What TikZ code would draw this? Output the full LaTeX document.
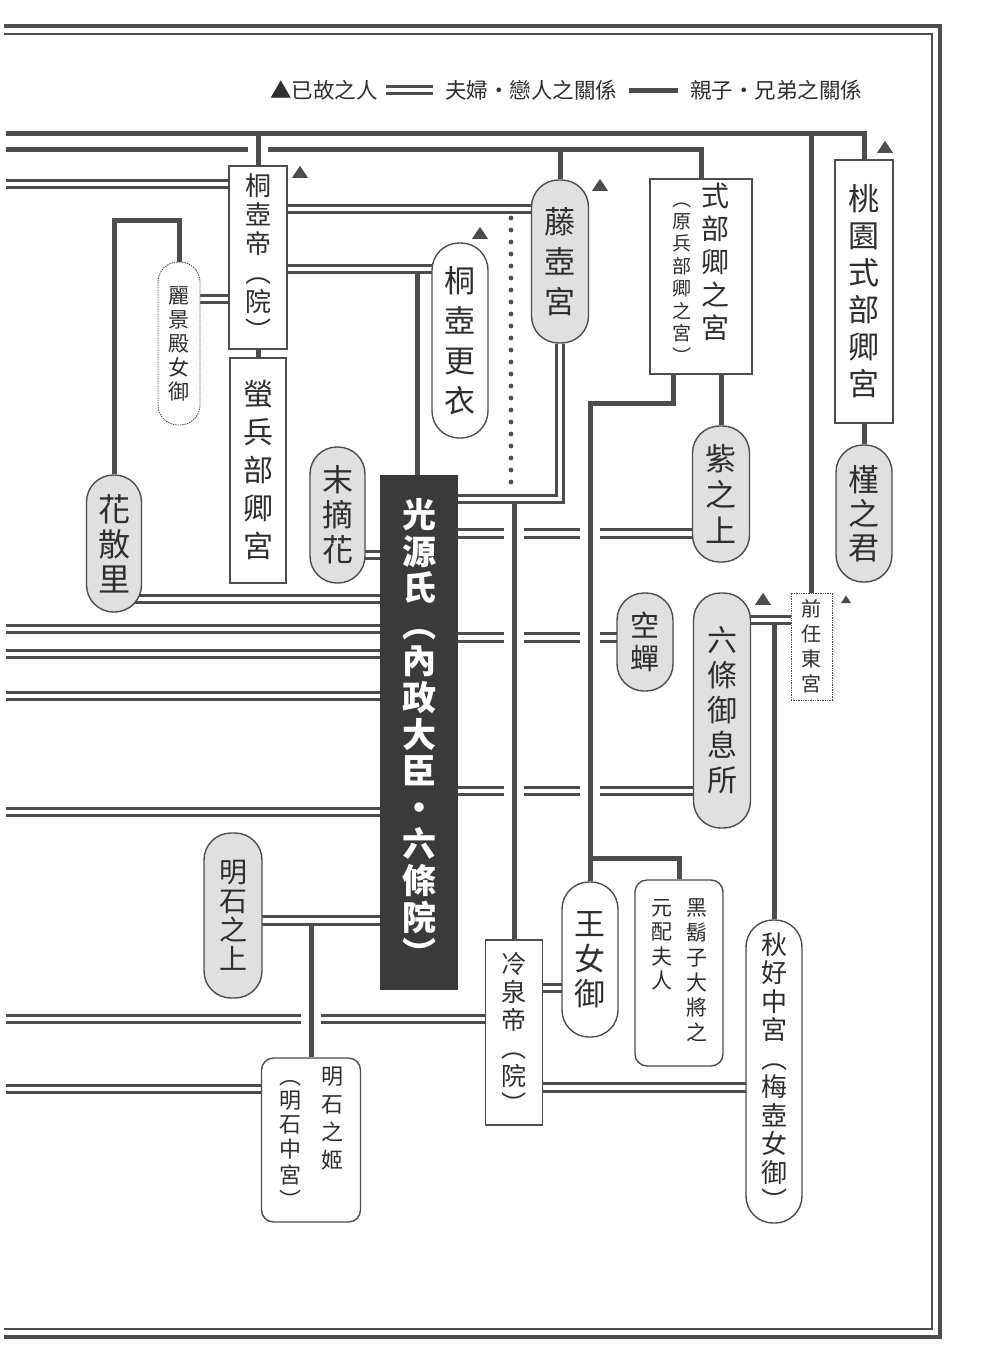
\documentclass[tikz,border=0pt]{standalone}
\usepackage{fontspec}
\setmainfont{Noto Sans CJK TC}
\usetikzlibrary{backgrounds}

\definecolor{sen}{HTML}{4D4D4D}
\definecolor{kage}{HTML}{E0E0E0}
\definecolor{sumi}{HTML}{2E2E2E}
\definecolor{genjiiro}{HTML}{3A3A3A}

\newcommand\fz[2]{\fontsize{#1}{#2}\selectfont}
\newcommand\tate[2]{{#1\begin{tabular}[t]{@{}c@{}}#2\end{tabular}}}
\newcommand\shibou[3]{\fill[sen] (#1-#3,#2+0.6*#3) -- (#1+#3,#2+0.6*#3) -- (#1,#2-0.9*#3) -- cycle;}

\begin{document}
\begin{tikzpicture}[x=1pt, y=-1pt,
    oyako/.style={draw=sen, line width=5pt},
    fufu/.style={draw=sen, line width=3pt, double=white, double distance=4.8pt},
    bridge/.style={draw=white, line width=20pt, shorten <=9pt, shorten >=9pt},
    tensen/.style={draw=sen, line width=4.8pt, line cap=round, dash pattern=on 0pt off 12pt},
    hito/.style={draw=sen, line width=1.4pt, fill=white, text=sumi, inner sep=0pt, align=center},
    maru/.style={hito, rounded corners=#1},
    maru/.default=27pt,
    kasane/.style={fill=kage},
    hanrei/.style={text=sumi, font=\fz{21.5}{24}, inner sep=6pt}]
  \useasboundingbox (0,0) rectangle (980,1349);

  \node[hanrei, anchor=west] (hr1) at (264,90) {▲已故之人};
  \node[hanrei, anchor=west] (hr2) at (439,90) {夫婦・戀人之關係};
  \node[hanrei, anchor=west] (hr3) at (684,90) {親子・兄弟之關係};

  \node[hito, minimum width=58pt, minimum height=183pt, font=\fz{26}{29}] (kiri) at (258,257.5) {桐\\壺\\帝\\︵\\院\\︶};
  \node[hito, minimum width=56pt, minimum height=225pt, font=\fz{30}{38}] (hotaru) at (258,470.5) {螢\\兵\\部\\卿\\宮};
  \node[maru=20pt, densely dotted, line width=0.9pt, minimum width=42pt, minimum height=163pt, font=\fz{21}{24}] (reikeiden) at (179,343.5) {麗\\景\\殿\\女\\御};
  \node[maru, kasane, minimum width=55pt, minimum height=137pt, font=\fz{32}{35}] (hanachiru) at (114,543.5) {花\\散\\里};
  \node[maru, kasane, minimum width=55pt, minimum height=136pt, font=\fz{31}{35}] (suetsumu) at (337.5,515) {末\\摘\\花};
  \node[maru, minimum width=56pt, minimum height=195pt, font=\fz{31}{40}] (koui) at (460,340.5) {桐\\壺\\更\\衣};
  \node[hito, fill=genjiiro, draw=genjiiro, text=white, minimum width=76pt, minimum height=513pt, font=\fz{34}{36.6}\bfseries] (genji) at (419,732.5) {光\\源\\氏\\︵\\內\\政\\大\\臣\\・\\六\\條\\院\\︶};
  \node[maru, kasane, minimum width=57pt, minimum height=163pt, font=\fz{31}{40}] (fujitsubo) at (560,261.5) {藤\\壺\\宮};
  \node[hito, minimum width=102pt, minimum height=195pt] (shikibu) at (701,276.5) {\tate{\fz{19}{22}}{︵\\原\\兵\\部\\卿\\之\\宮\\︶}\hspace{10pt}\tate{\fz{28}{32}}{式\\部\\卿\\之\\宮}};
  \node[hito, minimum width=58pt, minimum height=263pt, font=\fz{31}{37}] (momozono) at (864,291.5) {桃\\園\\式\\部\\卿\\宮};
  \node[maru, kasane, minimum width=56pt, minimum height=137pt, font=\fz{31}{34}] (asagao) at (864,513.5) {槿\\之\\君};
  \node[maru, kasane, minimum width=57pt, minimum height=136pt, font=\fz{31}{36}] (murasaki) at (721,494) {紫\\之\\上};
  \node[maru, kasane, minimum width=56pt, minimum height=98pt, font=\fz{29}{33}] (utsusemi) at (645,642) {空\\蟬};
  \node[maru, kasane, minimum width=57pt, minimum height=235pt, font=\fz{30}{35}] (rokujo) at (722,710.5) {六\\條\\御\\息\\所};
  \node[hito, densely dotted, line width=0.9pt, minimum width=41pt, minimum height=107pt, font=\fz{20}{25}] (zennin) at (811.5,646.5) {前\\任\\東\\宮};
  \node[maru, kasane, minimum width=58pt, minimum height=165pt, font=\fz{28}{29}] (akashi) at (233,915.5) {明\\石\\之\\上};
  \node[maru=12pt, minimum width=99pt, minimum height=164pt] (himegimi) at (311,1140) {\tate{\fz{22}{23}}{︵\\明\\石\\中\\宮\\︶}\hspace{20pt}\tate{\fz{22}{28}}{明\\石\\之\\姬}};
  \node[hito, minimum width=57pt, minimum height=185pt, font=\fz{25}{28}] (reizei) at (514,1032.5) {冷\\泉\\帝\\︵\\院\\︶};
  \node[maru, minimum width=56pt, minimum height=155pt, font=\fz{31}{35}] (onna) at (590,959.5) {王\\女\\御};
  \node[maru=12pt, minimum width=88pt, minimum height=186pt] (higekuro) at (679,973) {\tate{\fz{21}{24}}{元\\配\\夫\\人}\hspace{14pt}\tate{\fz{21}{25}}{黑\\鬍\\子\\大\\將\\之}};
  \node[maru, minimum width=56pt, minimum height=303pt, font=\fz{26}{28.5}] (akikonomu) at (774,1071.5) {秋\\好\\中\\宮\\︵\\梅\\壺\\女\\御\\︶};

  \coordinate (L1w) at (6,133);
  \coordinate (L2w) at (6,149);
  \coordinate (m1) at (6,184);
  \coordinate (m2) at (6,629);
  \coordinate (m3) at (6,654);
  \coordinate (m4) at (6,696);
  \coordinate (m5) at (6,812);
  \coordinate (m6) at (6,1019);
  \coordinate (m7) at (6,1089);
  \coordinate (jR) at (114,220);
  \coordinate (jK) at (417,272.5);
  \coordinate (jF) at (560,499);
  \coordinate (jT1) at (511,218);
  \coordinate (jT2) at (511,492);
  \coordinate (jR2) at (514,502.5);
  \coordinate (jA) at (590,403);
  \coordinate (jB) at (590,858);
  \coordinate (jH) at (311,923.5);
  \coordinate (jZ) at (774,624.5);

  \begin{scope}[on background layer]
    \fill[white] (0,0) rectangle (980,1349);
    \draw[sen, line width=4.5pt] (4,26) -- (940,26) -- (940,1337) -- (4,1337);
    \draw[sen, line width=1.6pt] (4,34) -- (932,34) -- (932,1329) -- (4,1329);

    \draw[fufu, shorten <=2pt, shorten >=6pt] (hr1.east) -- (hr2.west);
    \draw[oyako, shorten <=6pt, shorten >=6pt] (hr2.east) -- (hr3.west);

    \draw[fufu] (m1) -- (m1 -| kiri);
    \draw[fufu] (reikeiden |- 0,299) -- (kiri |- 0,299);
    \draw[fufu] (kiri |- 0,209) -- (fujitsubo |- 0,209);
    \draw[fufu] (kiri |- 0,269) -- (koui |- 0,269);
    \draw[fufu] (fujitsubo) -- (jF) -- (jF -| genji);
    \draw[fufu] (suetsumu |- 0,555) -- (genji |- 0,555);
    \draw[fufu] (hanachiru |- 0,599) -- (genji |- 0,599);
    \draw[fufu] (m2) -- (m2 -| genji);
    \draw[fufu] (m3) -- (m3 -| genji);
    \draw[fufu] (m4) -- (m4 -| genji);
    \draw[fufu] (m5) -- (m5 -| genji);
    \draw[fufu] (genji |- 0,533.5) -- (murasaki |- 0,533.5);
    \draw[fufu] (genji |- 0,637.5) -- (utsusemi |- 0,637.5);
    \draw[fufu] (genji |- 0,791) -- (rokujo |- 0,791);
    \draw[fufu] (rokujo |- 0,620) -- (zennin |- 0,620);
    \draw[fufu] (akashi |- 0,920.5) -- (genji |- 0,920.5);
    \draw[fufu] (m6) -- (m6 -| reizei);
    \draw[fufu] (m7) -- (m7 -| himegimi);
    \draw[fufu] (reizei |- 0,988) -- (onna |- 0,988);
    \draw[fufu] (reizei |- 0,1087.5) -- (akikonomu |- 0,1087.5);

    \draw[oyako] (L1w) -- (L1w -| momozono) -- (momozono);
    \draw[oyako] (L2w) -- (L2w -| shikibu) -- (shikibu);

    \draw[bridge] (kiri |- L1w) -- (kiri);
    \draw[bridge] (jR2) -- (reizei);
    \draw[bridge] (jA) -- (onna);
    \draw[bridge] (jH) -- (himegimi);

    \draw[oyako] (kiri |- L1w) -- (kiri) -- (hotaru);
    \draw[oyako] (zennin |- L1w) -- (zennin);
    \draw[oyako] (fujitsubo |- L2w) -- (fujitsubo);
    \draw[oyako] (reikeiden) |- (jR) -- (hanachiru);
    \draw[oyako] (jK) -- (jK |- genji);
    \draw[oyako] (jR2) -- (reizei);
    \draw[oyako] ([xshift=-28pt]shikibu.center) |- (jA) -- (onna);
    \draw[oyako] (jB) -| (higekuro);
    \draw[oyako] (murasaki |- shikibu) -- (murasaki);
    \draw[oyako] (momozono) -- (asagao);
    \draw[oyako] (jZ) -- (akikonomu);
    \draw[oyako] (jH) -- (himegimi);
    \draw[tensen] (jT1) -- (jT2);
  \end{scope}

  \shibou{300}{173}{8}
  \shibou{480}{234}{8}
  \shibou{600}{186}{8}
  \shibou{885}{148}{8}
  \shibou{763}{600}{8}
  \shibou{846}{600}{5}
\end{tikzpicture}
\end{document}
